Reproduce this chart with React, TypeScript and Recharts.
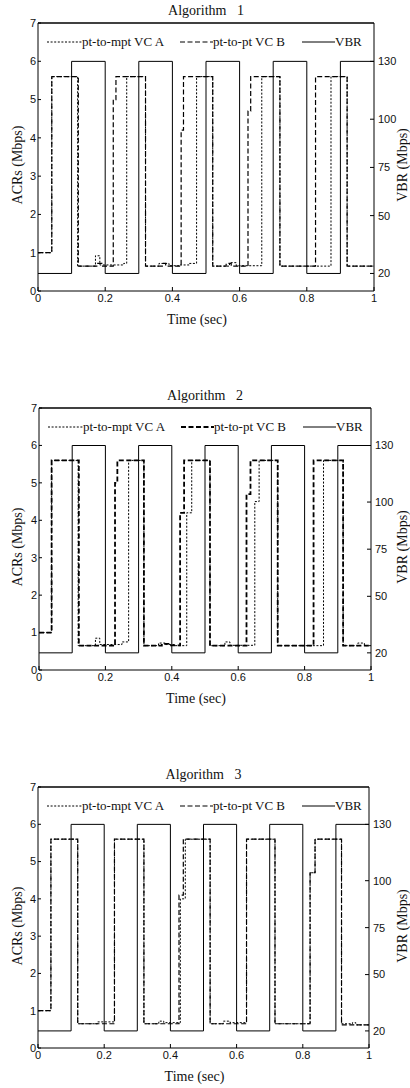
import React from "react";
import { LineChart, Line, XAxis, YAxis, ReferenceLine } from "recharts";

const timeTicks = [0, 0.2, 0.4, 0.6, 0.8, 1];
const acrTicks = [0, 1, 2, 3, 4, 5, 6, 7];
const vbrTicks = [20, 50, 75, 100, 130];

// VBR source toggles every 0.1 s
const vbrTimes = [0, 0.1, 0.2, 0.3, 0.4, 0.5, 0.6, 0.7, 0.8, 0.9, 1];
const vbrRates = [20, 130, 20, 130, 20, 130, 20, 130, 20, 130, 130];

// Algorithm 1
const alg1ATimes = [0, 0.041, 0.118, 0.171, 0.184, 0.22, 0.255, 0.264, 0.32, 0.36, 0.39, 0.42, 0.45, 0.472, 0.52, 0.57, 0.59, 0.666, 0.72, 0.872, 0.92, 1];
const alg1ARates = [1.0, 5.6, 0.65, 0.92, 0.68, 0.68, 0.72, 5.6, 0.65, 0.72, 0.66, 0.68, 0.72, 5.6, 0.65, 0.74, 0.66, 5.6, 0.65, 5.6, 0.65, 0.65];
const alg1BTimes = [0, 0.041, 0.12, 0.175, 0.19, 0.224, 0.232, 0.32, 0.37, 0.38, 0.426, 0.433, 0.52, 0.56, 0.575, 0.625, 0.633, 0.72, 0.826, 0.92, 1];
const alg1BRates = [1.0, 5.6, 0.65, 0.72, 0.65, 5.0, 5.6, 0.65, 0.72, 0.65, 4.2, 5.6, 0.65, 0.72, 0.65, 4.7, 5.6, 0.65, 5.6, 0.65, 0.65];

// Algorithm 2
const alg2ATimes = [0, 0.038, 0.118, 0.17, 0.183, 0.25, 0.27, 0.316, 0.36, 0.38, 0.41, 0.445, 0.46, 0.515, 0.56, 0.575, 0.65, 0.663, 0.719, 0.857, 0.916, 0.96, 0.98, 1];
const alg2ARates = [1.0, 5.6, 0.65, 0.85, 0.68, 0.75, 5.6, 0.65, 0.72, 0.68, 0.65, 4.2, 5.6, 0.65, 0.75, 0.66, 4.5, 5.6, 0.65, 5.6, 0.65, 0.72, 0.65, 0.65];
const alg2BTimes = [0, 0.038, 0.12, 0.229, 0.236, 0.316, 0.37, 0.39, 0.425, 0.437, 0.515, 0.625, 0.637, 0.719, 0.827, 0.916, 1];
const alg2BRates = [1.0, 5.6, 0.65, 5.0, 5.6, 0.65, 0.7, 0.66, 4.2, 5.6, 0.65, 4.7, 5.6, 0.65, 5.6, 0.65, 0.65];

// Algorithm 3
const alg3ATimes = [0, 0.039, 0.12, 0.18, 0.231, 0.32, 0.365, 0.38, 0.43, 0.445, 0.52, 0.56, 0.58, 0.63, 0.716, 0.822, 0.837, 0.917, 0.95, 0.96, 1];
const alg3ARates = [1.0, 5.6, 0.65, 0.7, 5.6, 0.65, 0.72, 0.68, 4.0, 5.6, 0.65, 0.72, 0.68, 5.6, 0.65, 4.7, 5.6, 0.65, 0.68, 0.62, 0.62];
const alg3BTimes = [0, 0.039, 0.12, 0.231, 0.32, 0.426, 0.439, 0.52, 0.63, 0.716, 0.822, 0.837, 0.917, 1];
const alg3BRates = [1.0, 5.6, 0.65, 5.6, 0.65, 4.1, 5.6, 0.65, 5.6, 0.65, 4.7, 5.6, 0.62, 0.62];

const toPts = (times: number[], rates: number[]) => times.map((t, i) => ({ t, v: rates[i] }));

const serif = "'Liberation Serif', 'DejaVu Serif', serif";
const sans = "'Liberation Sans', Arial, sans-serif";
const tickStyle = { fontSize: 11, fill: "#111", fontFamily: sans };

const DASH_A = "2 1.6";
const DASH_B = "5 2.5";

type PanelProps = {
  title: string;
  vcA: { t: number; v: number }[];
  vcB: { t: number; v: number }[];
  left: number;
  right: number;
  top: number;
  bottom: number;
  bWidth: number;
};

function Panel({ title, vcA, vcB, left, right, top, bottom, bWidth }: PanelProps) {
  const chartTop = top - 30;
  const cx = (left + right) / 2;
  const cy = (top + bottom) / 2;
  const vbr = toPts(vbrTimes, vbrRates);
  const txt: React.CSSProperties = { position: "absolute", fontFamily: serif, color: "#111", whiteSpace: "pre", lineHeight: 1 };

  return (
    <>
      <div style={{ position: "absolute", left: 0, top: chartTop }}>
        <LineChart width={410} height={bottom - chartTop + 20} margin={{ top: 30, right: 0, bottom: 0, left: 0 }}>
          <XAxis
            dataKey="t"
            type="number"
            domain={[0, 1]}
            ticks={timeTicks}
            height={20}
            tick={tickStyle}
            tickSize={-4}
            tickMargin={7}
            stroke="#000"
            allowDuplicatedCategory={false}
          />
          <YAxis
            yAxisId="acr"
            domain={[0, 7]}
            ticks={acrTicks}
            width={left}
            tick={tickStyle}
            tickSize={-3}
            tickMargin={5}
            stroke="#000"
          />
          <YAxis
            yAxisId="vbr"
            orientation="right"
            domain={[10.9, 149.9]}
            ticks={vbrTicks}
            width={410 - right}
            tick={tickStyle}
            tickSize={-4}
            tickMargin={8}
            stroke="#000"
          />
          <ReferenceLine yAxisId="acr" y={7} stroke="#000" strokeWidth={1.5} />
          <Line
            yAxisId="vbr"
            data={vbr}
            dataKey="v"
            type="stepAfter"
            stroke="#000"
            strokeWidth={1}
            dot={false}
            isAnimationActive={false}
          />
          <Line
            yAxisId="acr"
            data={vcB}
            dataKey="v"
            type="stepAfter"
            stroke="#000"
            strokeWidth={bWidth}
            strokeDasharray={DASH_B}
            dot={false}
            isAnimationActive={false}
          />
          <Line
            yAxisId="acr"
            data={vcA}
            dataKey="v"
            type="stepAfter"
            stroke="#000"
            strokeWidth={1}
            strokeDasharray={DASH_A}
            dot={false}
            isAnimationActive={false}
          />
        </LineChart>
      </div>

      <div style={{ ...txt, left: cx, top: top - 12, fontSize: 14, transform: "translate(-50%, -50%)" }}>{title}</div>
      <div style={{ ...txt, left: 18, top: cy + 8, fontSize: 14, transform: "translate(-50%, -50%) rotate(-90deg)" }}>
        ACRs (Mbps)
      </div>
      <div style={{ ...txt, left: 403, top: cy + 8, fontSize: 14, transform: "translate(-50%, -50%) rotate(-90deg)" }}>
        VBR (Mbps)
      </div>
      <div style={{ ...txt, left: cx - 9, top: bottom + 29, fontSize: 14, transform: "translate(-50%, -50%)" }}>
        Time (sec)
      </div>

      <div style={{ position: "absolute", left: left + 9, top: top + 19, transform: "translateY(-50%)", display: "flex", alignItems: "center", fontFamily: serif, fontSize: 13, color: "#111", whiteSpace: "pre" }}>
        <svg width={35} height={6}><line x1={0} y1={3} x2={35} y2={3} stroke="#000" strokeWidth={1} strokeDasharray={DASH_A} /></svg>
        <span style={{ width: 98 }}>pt-to-mpt VC A</span>
        <svg width={33} height={6}><line x1={0} y1={3} x2={33} y2={3} stroke="#000" strokeWidth={bWidth} strokeDasharray={DASH_B} /></svg>
        <span style={{ width: 89 }}>pt-to-pt VC B</span>
        <svg width={33} height={6}><line x1={0} y1={3} x2={33} y2={3} stroke="#000" strokeWidth={1} /></svg>
        <span>VBR</span>
      </div>
    </>
  );
}

export default function App() {
  return (
    <div style={{ position: "absolute", left: 0, top: 0, width: 410, height: 1088, background: "#fff", overflow: "hidden" }}>
      <Panel title="Algorithm   1" vcA={toPts(alg1ATimes, alg1ARates)} vcB={toPts(alg1BTimes, alg1BRates)} left={38} right={374} top={23} bottom={291} bWidth={1.2} />
      <Panel title="Algorithm   2" vcA={toPts(alg2ATimes, alg2ARates)} vcB={toPts(alg2BTimes, alg2BRates)} left={39} right={371} top={408} bottom={670} bWidth={1.8} />
      <Panel title="Algorithm   3" vcA={toPts(alg3ATimes, alg3ARates)} vcB={toPts(alg3BTimes, alg3BRates)} left={38} right={369} top={787} bottom={1048} bWidth={1.2} />
    </div>
  );
}
